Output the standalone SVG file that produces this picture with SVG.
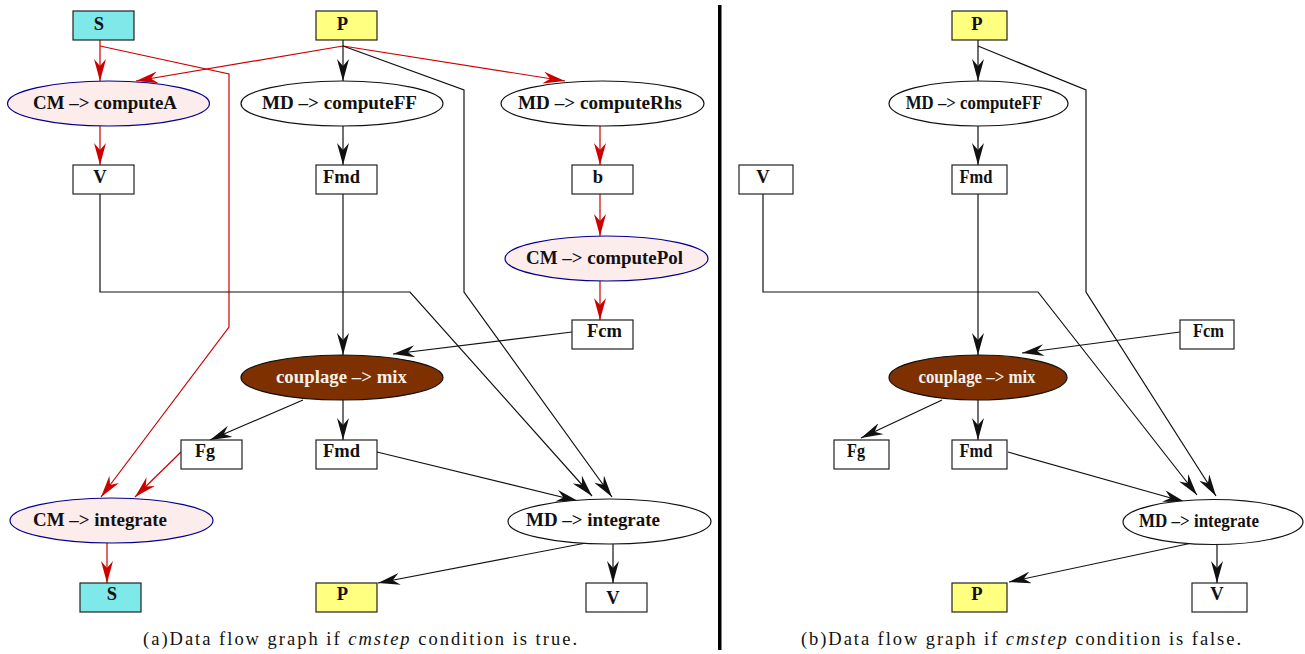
<svg xmlns="http://www.w3.org/2000/svg" width="1305" height="654" viewBox="0 0 1305 654">
<style>
.bg{fill:#ffffff}
.box{fill:#ffffff;stroke:#222;stroke-width:1.2}
.cyan{fill:#7fe9e9}
.yel{fill:#ffff80}
.op{fill:#ffffff;stroke:#111;stroke-width:1.2}
.cm{fill:#fcecec;stroke:#00008b;stroke-width:1.2}
.mix{fill:#7f3000;stroke:#111;stroke-width:1.2}
.t{font-family:"Liberation Serif","Times New Roman",serif;font-weight:bold;font-size:18.5px;fill:#111;text-anchor:middle}
.tw{fill:#f4f0ea}
.cap{font-family:"Liberation Serif","Times New Roman",serif;font-size:18.5px;fill:#111;text-anchor:middle}
.ek{fill:none;stroke:#111;stroke-width:1.2;marker-end:url(#ak)}
.er{fill:none;stroke:#cd0000;stroke-width:1.2;marker-end:url(#ar)}
</style>
<defs>
<marker id="ak" markerUnits="userSpaceOnUse" markerWidth="22" markerHeight="12" viewBox="0 0 22 12" refX="22" refY="6" orient="auto">
<path d="M0,0 L22,6 L0,12 L7,6 Z" fill="#111"/>
</marker>
<marker id="ar" markerUnits="userSpaceOnUse" markerWidth="22" markerHeight="12" viewBox="0 0 22 12" refX="22" refY="6" orient="auto">
<path d="M0,0 L22,6 L0,12 L7,6 Z" fill="#cd0000"/>
</marker>
</defs>
<rect class="bg" x="0" y="0" width="1305" height="654"/>

<g id="connectors">
<path class="er" d="M100,40 L100,81"/>
<path class="er" d="M100,46 L229,74 L229,327 L101,497"/>
<path class="er" d="M343,46 L136,81"/>
<path class="er" d="M343,46 L565,81"/>
<path class="er" d="M100,126 L100,165"/>
<path class="er" d="M600,126 L600,165"/>
<path class="er" d="M600,194 L600,236"/>
<path class="er" d="M600,281 L600,320"/>
<path class="er" d="M181,452 L135,497"/>
<path class="er" d="M107,543 L107,583"/>
<path class="ek" d="M343,40 L343,81"/>
<path class="ek" d="M343,46 L464,90 L464,292 L612,497"/>
<path class="ek" d="M343,126 L343,165"/>
<path class="ek" d="M343,194 L343,355"/>
<path class="ek" d="M100,194 L100,292 L410,292 L592,496"/>
<path class="ek" d="M572,332 L393,354"/>
<path class="ek" d="M303,400 L210,440"/>
<path class="ek" d="M343,400 L343,440"/>
<path class="ek" d="M377,452 L578,501"/>
<path class="ek" d="M586,543 L378,583"/>
<path class="ek" d="M613,543 L613,583"/>
<path class="ek" d="M978,40 L978,81"/>
<path class="ek" d="M978,46 L1086,90 L1086,292 L1216,496"/>
<path class="ek" d="M978,126 L978,165"/>
<path class="ek" d="M978,194 L978,355"/>
<path class="ek" d="M763,194 L763,292 L1038,292 L1197,495"/>
<path class="ek" d="M1180,332 L1022,353"/>
<path class="ek" d="M942,400 L861,438"/>
<path class="ek" d="M978,400 L978,440"/>
<path class="ek" d="M1008,452 L1185,502"/>
<path class="ek" d="M1192,543 L1009,582"/>
<path class="ek" d="M1217,544 L1217,583"/>
</g>

<g id="a_S_top"><rect class="box cyan" x="73" y="11" width="61" height="29"/><text class="t" x="99" y="30">S</text></g>
<g id="a_P_top"><rect class="box yel" x="316" y="11" width="61" height="29"/><text class="t" x="342.5" y="30">P</text></g>
<g id="a_computeA"><ellipse class="cm" cx="108.5" cy="103.5" rx="101" ry="22.5"/><text class="t" x="105" y="109" textLength="144" lengthAdjust="spacingAndGlyphs">CM –&gt; computeA</text></g>
<g id="a_computeFF"><ellipse class="op" cx="342" cy="103.5" rx="101" ry="22.5"/><text class="t" x="339.5" y="109" textLength="155" lengthAdjust="spacingAndGlyphs">MD –&gt; computeFF</text></g>
<g id="a_computeRhs"><ellipse class="op" cx="602.5" cy="103.5" rx="101.5" ry="22.5"/><text class="t" x="600" y="109" textLength="164" lengthAdjust="spacingAndGlyphs">MD –&gt; computeRhs</text></g>
<g id="a_V"><rect class="box" x="73" y="165" width="61" height="29"/><text class="t" x="100" y="183">V</text></g>
<g id="a_Fmd"><rect class="box" x="316" y="165" width="61" height="29"/><text class="t" x="341.5" y="183" textLength="37" lengthAdjust="spacingAndGlyphs">Fmd</text></g>
<g id="a_b"><rect class="box" x="572" y="165" width="61" height="29"/><text class="t" x="598" y="183">b</text></g>
<g id="a_computePol"><ellipse class="cm" cx="606.5" cy="258.5" rx="101.5" ry="22.5"/><text class="t" x="604.5" y="264" textLength="157" lengthAdjust="spacingAndGlyphs">CM –&gt; computePol</text></g>
<g id="a_Fcm"><rect class="box" x="572" y="320" width="61" height="29"/><text class="t" x="604.5" y="337" textLength="35" lengthAdjust="spacingAndGlyphs">Fcm</text></g>
<g id="a_mix"><ellipse class="mix" cx="342" cy="377.5" rx="101" ry="22.5"/><text class="t tw" x="341.5" y="383" textLength="131" lengthAdjust="spacingAndGlyphs">couplage –&gt; mix</text></g>
<g id="a_Fg"><rect class="box" x="181" y="440" width="61" height="29"/><text class="t" x="205" y="457" textLength="20" lengthAdjust="spacingAndGlyphs">Fg</text></g>
<g id="a_Fmd2"><rect class="box" x="316" y="440" width="61" height="29"/><text class="t" x="341.5" y="457" textLength="37" lengthAdjust="spacingAndGlyphs">Fmd</text></g>
<g id="a_CMintegrate"><ellipse class="cm" cx="111.5" cy="520.5" rx="101.5" ry="22.5"/><text class="t" x="100" y="526" textLength="134" lengthAdjust="spacingAndGlyphs">CM –&gt; integrate</text></g>
<g id="a_MDintegrate"><ellipse class="op" cx="609.5" cy="521.5" rx="101.5" ry="22.5"/><text class="t" x="593" y="526" textLength="134" lengthAdjust="spacingAndGlyphs">MD –&gt; integrate</text></g>
<g id="a_S_bot"><rect class="box cyan" x="80" y="583" width="61" height="29"/><text class="t" x="112" y="600">S</text></g>
<g id="a_P_bot"><rect class="box yel" x="316" y="583" width="61" height="29"/><text class="t" x="342.5" y="600">P</text></g>
<g id="a_V_bot"><rect class="box" x="586" y="583" width="61" height="29"/><text class="t" x="613" y="604">V</text></g>

<g id="b_P_top"><rect class="box yel" x="952" y="11" width="55" height="29"/><text class="t" x="977" y="30">P</text></g>
<g id="b_computeFF"><ellipse class="op" cx="978.5" cy="103.5" rx="89.5" ry="22.5"/><text class="t" x="974" y="109" textLength="136.5" lengthAdjust="spacingAndGlyphs">MD –&gt; computeFF</text></g>
<g id="b_V"><rect class="box" x="739" y="165" width="54" height="29"/><text class="t" x="763" y="183">V</text></g>
<g id="b_Fmd"><rect class="box" x="952" y="165" width="55" height="29"/><text class="t" x="976" y="183" textLength="33" lengthAdjust="spacingAndGlyphs">Fmd</text></g>
<g id="b_Fcm"><rect class="box" x="1180" y="320" width="54" height="29"/><text class="t" x="1208.5" y="337" textLength="31" lengthAdjust="spacingAndGlyphs">Fcm</text></g>
<g id="b_mix"><ellipse class="mix" cx="978" cy="377.5" rx="89" ry="22.5"/><text class="t tw" x="977" y="383" textLength="117" lengthAdjust="spacingAndGlyphs">couplage –&gt; mix</text></g>
<g id="b_Fg"><rect class="box" x="834" y="440" width="55" height="29"/><text class="t" x="856" y="457" textLength="18" lengthAdjust="spacingAndGlyphs">Fg</text></g>
<g id="b_Fmd2"><rect class="box" x="952" y="440" width="55" height="29"/><text class="t" x="976" y="457" textLength="33" lengthAdjust="spacingAndGlyphs">Fmd</text></g>
<g id="b_MDintegrate"><ellipse class="op" cx="1213" cy="522" rx="90" ry="22.5"/><text class="t" x="1199" y="527" textLength="120" lengthAdjust="spacingAndGlyphs">MD –&gt; integrate</text></g>
<g id="b_P_bot"><rect class="box yel" x="952" y="583" width="55" height="29"/><text class="t" x="977" y="600">P</text></g>
<g id="b_V_bot"><rect class="box" x="1192" y="583" width="55" height="29"/><text class="t" x="1217" y="600">V</text></g>

<rect id="divider" x="718" y="5" width="3.5" height="645" fill="#000"/>
<text class="cap" x="360" y="645" textLength="434" lengthAdjust="spacing">(a)Data flow graph if <tspan font-style="italic">cmstep</tspan> condition is true.</text>
<text class="cap" x="1021" y="645" textLength="440" lengthAdjust="spacing">(b)Data flow graph if <tspan font-style="italic">cmstep</tspan> condition is false.</text>
</svg>
